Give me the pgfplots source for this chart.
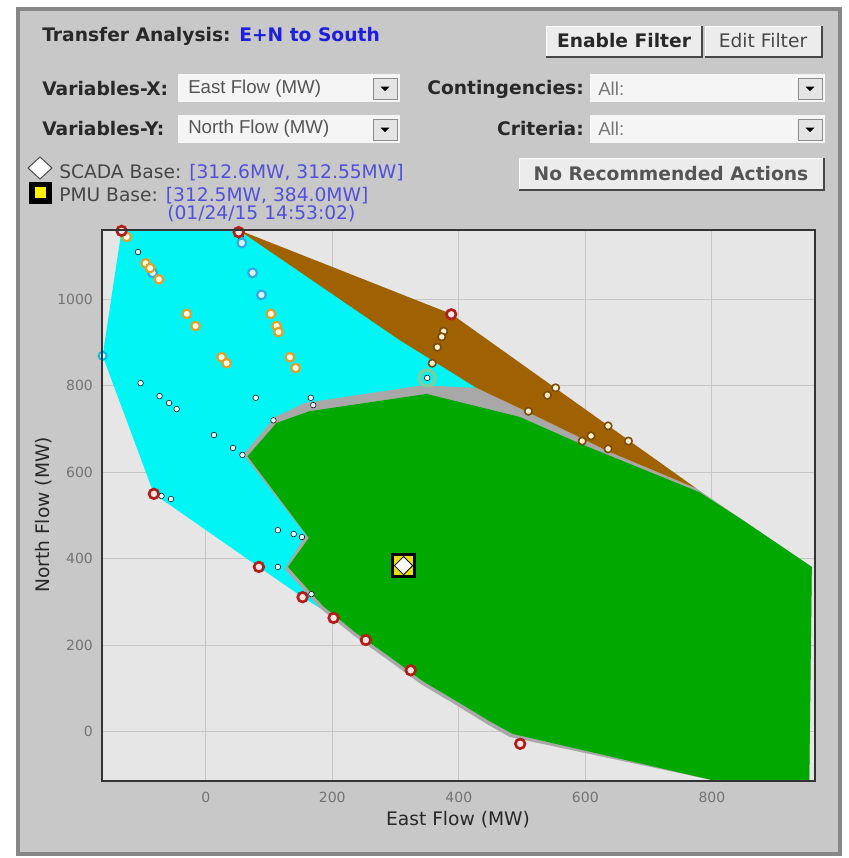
\documentclass[border=0pt]{standalone}
\usepackage{fontspec}
\setmainfont{DejaVu Sans}
\newfontfamily\arialf{Liberation Sans}
\usepackage{pgfplots}
\pgfplotsset{compat=1.18}

\definecolor{panel}{RGB}{200,200,200}
\definecolor{panelborder}{RGB}{135,135,135}
\definecolor{plotbg}{RGB}{230,230,230}
\definecolor{gridc}{RGB}{198,198,198}
\definecolor{cyanreg}{RGB}{0,245,245}
\definecolor{brownreg}{RGB}{160,98,0}
\definecolor{greenreg}{RGB}{0,168,0}
\definecolor{grayband}{RGB}{168,168,168}
\definecolor{titleblue}{RGB}{30,30,220}
\definecolor{valblue}{RGB}{80,80,220}
\definecolor{labelc}{RGB}{40,40,40}
\definecolor{legc}{RGB}{70,70,70}
\definecolor{tickc}{RGB}{115,115,115}
\definecolor{ringred}{RGB}{175,30,25}
\definecolor{ringorange}{RGB}{225,160,40}
\definecolor{ringbrown}{RGB}{120,75,10}
\definecolor{ringblue}{RGB}{50,170,220}
\definecolor{ringgreen}{RGB}{130,205,160}
\definecolor{dotwhite}{RGB}{225,255,255}
\definecolor{creamc}{RGB}{255,240,205}
\definecolor{ddfill}{RGB}{245,245,245}
\definecolor{arrowfill}{RGB}{228,228,228}
\definecolor{btnfill}{RGB}{236,236,236}
\definecolor{btndark}{RGB}{70,70,70}
\definecolor{ddtext}{RGB}{85,85,85}

\newcommand{\uifont}{\fontsize{14}{16}\selectfont}

\begin{document}
\begin{tikzpicture}
% ---- panel and controls (pixel units, y downwards)
\begin{scope}[x=0.75pt,y=-0.75pt]
  \fill[white] (0,0) rectangle (849,858);
  \filldraw[fill=panel, draw=panelborder, line width=3pt] (18,9) rectangle (840,854);

  \node[anchor=west, inner sep=0, font=\uifont\bfseries, text=labelc] at (42,36)
    {Transfer Analysis: \textcolor{titleblue}{E+N to South}};

  % buttons
  \fill[btnfill] (546,26) rectangle (702,57);
  \draw[white, line width=0.75pt] (546,57) -- (546,26) -- (702,26);
  \draw[btndark, line width=1.5pt] (546,57) -- (702,57) -- (702,26);
  \node[font=\uifont\bfseries, text=labelc] at (624,41) {Enable Filter};
  \fill[btnfill] (705,26) rectangle (822,57);
  \draw[white, line width=0.75pt] (705,57) -- (705,26) -- (822,26);
  \draw[btndark, line width=1.5pt] (705,57) -- (822,57) -- (822,26);
  \node[font=\uifont, text=labelc!85] at (763,41) {Edit Filter};
  \fill[btnfill] (519,158) rectangle (824,190);
  \draw[white, line width=0.75pt] (519,190) -- (519,158) -- (824,158);
  \draw[btndark, line width=1.5pt] (519,190) -- (824,190) -- (824,158);
  \node[font=\uifont\bfseries, text=ddtext] at (671,174) {No Recommended Actions};

  % selector rows
  \node[anchor=west, inner sep=0, font=\uifont\bfseries, text=labelc] at (42,89) {Variables-X:};
  \node[anchor=west, inner sep=0, font=\uifont\bfseries, text=labelc] at (42,129) {Variables-Y:};
  \node[anchor=east, inner sep=0, font=\uifont\bfseries, text=labelc] at (584,89) {Contingencies:};
  \node[anchor=east, inner sep=0, font=\uifont\bfseries, text=labelc] at (584,129) {Criteria:};

  \fill[ddfill] (178,74) rectangle (400,102);
  \fill[ddfill] (178,115) rectangle (400,143);
  \fill[ddfill] (590,74) rectangle (825,102);
  \fill[ddfill] (590,115) rectangle (825,143);
  \foreach \ax/\ay in {373/78, 373/119, 798/78, 798/119} {
    \filldraw[fill=arrowfill, draw=black!45, line width=0.75pt] (\ax,\ay) rectangle ++(24,21);
    \fill[black] (\ax+7.5,\ay+8.5) -- ++(9,0) -- ++(-4.5,4.5) -- cycle;
  }
  \node[anchor=west, inner sep=0, font=\arialf\uifont, text=ddtext] at (188,89) {East Flow (MW)};
  \node[anchor=west, inner sep=0, font=\arialf\uifont, text=ddtext] at (188,129) {North Flow (MW)};
  \node[anchor=west, inner sep=0, font=\arialf\uifont, text=ddtext!80] at (598,89) {All:};
  \node[anchor=west, inner sep=0, font=\arialf\uifont, text=ddtext!80] at (598,129) {All:};

  % base legend
  \filldraw[fill=white, draw=black!70, line width=0.75pt] (40,157) -- (52,168) -- (40,179) -- (28,168) -- cycle;
  \fill[black] (29,182) rectangle (52,204);
  \fill[yellow] (35,187) rectangle (46,198);
  \node[anchor=west, inner sep=0, font=\uifont, text=legc] at (59,173)
    {SCADA Base: \textcolor{valblue}{[312.6MW, 312.55MW]}};
  \node[anchor=west, inner sep=0, font=\uifont, text=legc] at (59,196)
    {PMU Base: \textcolor{valblue}{[312.5MW, 384.0MW]}};
  \node[anchor=west, inner sep=0, font=\uifont, text=valblue] at (167,214) {(01/24/15 14:53:02)};
\end{scope}

\begin{axis}[
    at={(76.5pt,-172.5pt)}, anchor=north west,
    scale only axis, width=534.75pt, height=413.25pt,
    xmin=-164, xmax=963, ymin=-114, ymax=1160,
    axis background/.style={fill=plotbg},
    axis line style={draw=none},
    grid=major, major grid style={draw=gridc, line width=0.8pt},
    xtick={0,200,...,800}, ytick={0,200,...,1000},
    major tick length=0pt,
    tick label style={font=\fontsize{10.5}{12}\selectfont, text=tickc},
    xticklabel style={anchor=center, yshift=-12pt},
    yticklabel style={anchor=east, xshift=-3.3pt},
    /pgf/number format/assume math mode=true,
    /pgf/number format/1000 sep={},
]
% feasible regions
\addplot[fill=cyanreg, draw=none] coordinates {
  (-133,1160) (52,1160) (428,798) (307,306) (200,268) (153,311)
  (84,381) (-82,550) (-163,869) } -- cycle;
\addplot[fill=grayband, draw=none] coordinates {
  (60,640) (63,647) (109,727) (156,760) (343,801) (428,795) (512,737)
  (638,647) (775,563) (848,490) (958,381) (954,-114) (807,-114)
  (480,-12) (444,18) (393,64) (340,110) (288,166) (235,221)
  (182,284) (125,376) (158,455) } -- cycle;
\addplot[fill=greenreg, draw=none] coordinates {
  (66,637) (112,714) (164,741) (349,781) (496,728) (590,667)
  (780,554) (848,490) (958,381) (954,-114) (807,-114) (485,-5)
  (448,25) (396,71) (343,117) (291,173) (238,228) (185,291)
  (130,381) (163,448) } -- cycle;
\addplot[fill=brownreg, draw=none] coordinates {
  (52,1160) (388,966) (775,563) (638,647) (512,737) (428,795) (306,906) } -- cycle;

% operating points
\addplot[only marks, mark=*, mark size=2.1pt, mark options={draw=none, fill=dotwhite}] coordinates {
  (-107,1109) (55,1145) (-103,806) (-73,776) (-58,760) (-46,746) (79,772)
  (166,772) (170,755) (107,720) (13,686) (43,656) (58,640) (-70,545)
  (-55,538) (114,466) (139,457) (152,450) (114,381) (167,318) };
\addplot[only marks, mark=*, mark size=3pt, mark options={draw=cyanreg!75!blue, fill=dotwhite, line width=1.4pt}] coordinates {
  (-163,869) };
\addplot[only marks, mark=*, mark size=3.3pt, mark options={draw=ringblue, fill=white!85!cyan, line width=1.6pt}] coordinates {
  (-84,1061) (74,1061) (88,1010) (57,1130) };
\addplot[only marks, mark=*, mark size=3.2pt, mark options={draw=ringorange, fill=white!92!yellow, line width=1.6pt}] coordinates {
  (-125,1144) (-95,1083) (-88,1072) (-74,1046) (-30,966) (-16,938) (25,866)
  (33,852) (103,966) (112,938) (115,924) (133,866) (142,841) };
\addplot[only marks, mark=*, mark size=2.8pt, mark options={draw=ringbrown, fill=creamc, line width=1.2pt}] coordinates {
  (376,926) (373,913) (366,889) (358,852) (553,795) (540,778) (510,741)
  (636,707) (609,684) (595,672) (668,672) (636,654) };
\addplot[only marks, mark=*, mark size=6pt, mark options={draw=ringgreen, fill=cyanreg, line width=2.4pt}] coordinates {
  (350,818) };
\addplot[only marks, mark=*, mark size=2.1pt, mark options={draw=none, fill=white}] coordinates {
  (350,818) };
\addplot[only marks, mark=*, mark size=3.6pt, mark options={draw=ringred, fill=white!90!red, line width=2pt}] coordinates {
  (-133,1158) (52,1155) (388,965) (-82,550) (84,381) (153,311) (202,263)
  (253,212) (324,142) (497,-28) };

% base case: PMU square and SCADA diamond
\addplot[only marks, mark=square*, mark size=8.3pt, mark options={draw=black, fill=yellow!90!black, line width=2.5pt}] coordinates {
  (312.5,384.0) };
\addplot[only marks, mark=square*, mark size=4.8pt, mark options={rotate=45, draw=black, fill=white, line width=0.6pt}] coordinates {
  (312.6,384.0) };
\end{axis}

\begin{scope}[x=0.75pt,y=-0.75pt]
  \draw[black!80, line width=1.1pt] (102,230) rectangle (815,781);
  \node[font=\uifont, text=labelc] at (458,820) {East Flow (MW)};
  \node[rotate=90, font=\uifont, text=labelc] at (44,515) {North Flow (MW)};
\end{scope}
\end{tikzpicture}
\end{document}
